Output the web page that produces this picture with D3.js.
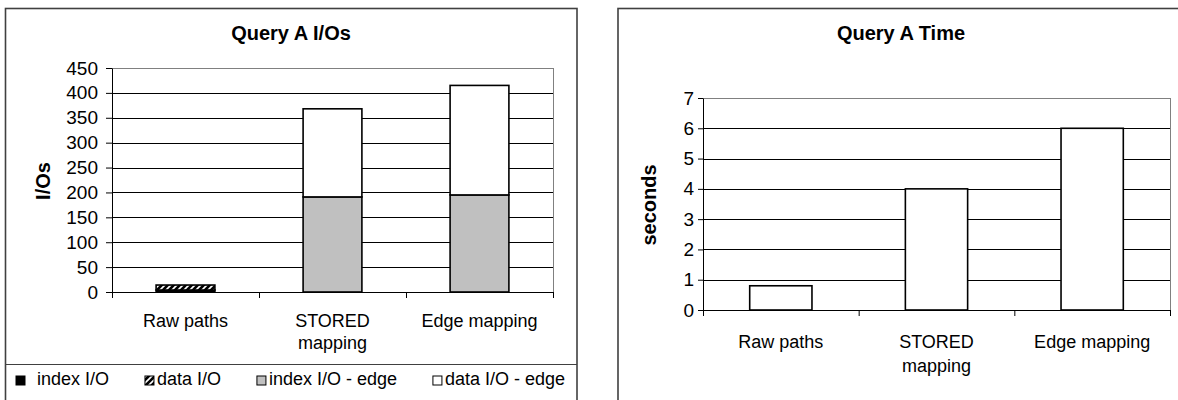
<!DOCTYPE html>
<html>
<head>
<meta charset="utf-8">
<script src="https://cdn.jsdelivr.net/npm/d3@7"></script>
<style>
  body { margin: 0; background: #fff; }
  svg { display: block; font-family: "Liberation Sans", Arial, sans-serif; }
</style>
</head>
<body>
<svg id="chart" width="1178" height="400"></svg>
<script>
// Categories and their label lines
var categories = ['Raw paths', 'STORED mapping', 'Edge mapping'];
var categoryLines = [['Raw paths'], ['STORED', 'mapping'], ['Edge mapping']];

// Query A I/Os (stacked)
var seriesNames = ['index I/O', 'data I/O', 'index I/O - edge', 'data I/O - edge'];
var indexIO = [4, 0, 0];
var dataIO = [10, 0, 0];
var indexIOEdge = [0, 191, 195];
var dataIOEdge = [0, 177, 220];
var ioTicks = [0, 50, 100, 150, 200, 250, 300, 350, 400, 450];

// Query A Time
var timeValues = [0.8, 4, 6];
var timeTicks = [0, 1, 2, 3, 4, 5, 6, 7];

var svg = d3.select('#chart');

// Hatch pattern for "data I/O"
var defs = svg.append('defs');
var hatch = defs.append('pattern').attr('id', 'hatch')
                .attr('patternUnits', 'userSpaceOnUse')
                .attr('width', 6).attr('height', 6);
hatch.append('rect').attr('width', 6).attr('height', 6).attr('fill', '#000');
hatch.append('path').attr('d', 'M0,6 L6,0 M-1.5,1.5 L1.5,-1.5 M4.5,7.5 L7.5,4.5')
     .attr('stroke', '#fff').attr('stroke-width', 1.6);

var fills = ['#000', 'url(#hatch)', '#c0c0c0', '#fff'];

function drawFrame(x, w) {
    svg.append('rect').attr('x', x).attr('y', 8.5).attr('width', w).attr('height', 420)
       .attr('fill', 'none').attr('stroke', '#404040').attr('stroke-width', 1.6);
}

function drawChart(opt) {
    var g = svg.append('g');

    // Scales:
    var xScale = d3.scaleBand().domain(categories).range([opt.left, opt.right])
                   .paddingInner(0.6).paddingOuter(0.3);
    var xTicks = d3.scaleLinear().domain([0, categories.length]).range([opt.left, opt.right]);
    var yScale = d3.scaleLinear().domain(opt.domain).range([opt.bottom, opt.top]);

    // Title:
    g.append('text').attr('x', opt.titleX).attr('y', opt.titleY)
     .attr('text-anchor', 'middle').attr('font-weight', 'bold')
     .attr('font-size', 20).text(opt.title);

    // Y label:
    g.append('text').attr('transform', 'translate(' + opt.labelX + ',' + opt.labelY + ') rotate(-90)')
     .attr('text-anchor', 'middle').attr('dy', '0.35em').attr('font-weight', 'bold')
     .attr('font-size', 20).text(opt.yLabel);

    // The grid:
    var grid = g.append('g').attr('transform', 'translate(' + opt.left + ',0)')
                .call(d3.axisLeft(yScale).tickValues(opt.ticks.slice(0, -1))
                        .tickSize(-(opt.right - opt.left)).tickFormat(''));
    grid.select('.domain').remove();
    grid.selectAll('line').attr('stroke', '#000').attr('shape-rendering', 'crispEdges');

    // Plot area border (top and right are grey):
    g.append('rect').attr('x', opt.left).attr('y', yScale(opt.domain[1]))
     .attr('width', opt.right - opt.left).attr('height', opt.bottom - yScale(opt.domain[1]))
     .attr('fill', 'none').attr('stroke', '#808080').attr('shape-rendering', 'crispEdges');

    // The bars:
    var stacked = d3.stack().keys(d3.range(opt.series.length))
                    .value((d, k) => opt.series[k][d])(d3.range(categories.length));
    stacked.forEach(function(layer, k) {
        g.append('g').selectAll('rect').data(layer.filter(d => d[1] > d[0]))
         .enter().append('rect')
         .attr('x', d => xScale(categories[d.data]))
         .attr('y', d => yScale(d[1]))
         .attr('width', xScale.bandwidth())
         .attr('height', d => yScale(d[0]) - yScale(d[1]))
         .attr('fill', opt.fills[k])
         .attr('stroke', '#000').attr('stroke-width', 1.6);
    });

    // Axes:
    var yAxis = g.append('g').attr('transform', 'translate(' + opt.left + ',0)')
                 .call(d3.axisLeft(yScale).tickValues(opt.ticks).tickFormat(d3.format('d'))
                         .tickSize(opt.tickSize).tickSizeOuter(0).tickPadding(opt.tickPadding));
    yAxis.selectAll('text').attr('font-size', 19).attr('fill', '#000')
         .attr('font-family', '"Liberation Sans", Arial, sans-serif');
    yAxis.selectAll('line, path').attr('stroke', '#000');

    var xAxis = g.append('g').attr('transform', 'translate(0,' + opt.bottom + ')')
                 .call(d3.axisBottom(xTicks).tickValues(d3.range(categories.length + 1))
                         .tickSize(6).tickSizeOuter(0).tickFormat(''));
    xAxis.selectAll('line, path').attr('stroke', '#000');

    // Category labels:
    var labels = g.append('g').selectAll('text').data(categoryLines).enter().append('text')
                  .attr('text-anchor', 'middle').attr('font-size', 18)
                  .attr('transform', (d, i) => 'translate(' + (xScale(categories[i]) + xScale.bandwidth() / 2) + ',' + opt.catY + ')');
    labels.selectAll('tspan').data(d => d).enter().append('tspan')
          .attr('x', 0).attr('y', (d, i) => i * opt.catLine).text(d => d);
}

// Frames
drawFrame(5.5, 571.5);
drawFrame(618, 620);

drawChart({
    title: 'Query A I/Os', yLabel: 'I/Os',
    left: 112, right: 553, top: 68, bottom: 292,
    domain: [0, 450], ticks: ioTicks,
    series: [indexIO, dataIO, indexIOEdge, dataIOEdge], fills: fills,
    titleX: 291, titleY: 40,
    labelX: 43, labelY: 181,
    tickSize: 6, tickPadding: 8,
    catY: 327, catLine: 22
});

drawChart({
    title: 'Query A Time', yLabel: 'seconds',
    left: 703, right: 1170, top: 98, bottom: 310,
    domain: [0, 7], ticks: timeTicks,
    series: [timeValues], fills: ['#fff'],
    titleX: 901, titleY: 40,
    labelX: 649, labelY: 205,
    tickSize: 5, tickPadding: 4,
    catY: 348, catLine: 24
});

// Legend for the I/O chart
svg.append('line').attr('x1', 5.5).attr('x2', 577).attr('y1', 364.5).attr('y2', 364.5)
   .attr('stroke', '#404040').attr('stroke-width', 1.2);

var legend = svg.append('g').attr('font-size', 18);
var items = legend.selectAll('g').data(seriesNames).enter().append('g');
items.append('rect').attr('width', 9).attr('height', 9).attr('y', 376)
     .attr('fill', (d, i) => fills[i]).attr('stroke', '#000').attr('stroke-width', 1);
items.append('text').attr('y', 385).text(d => d);

// Lay out legend entries so they span 16..565
var widths = [];
items.select('text').each(function() { widths.push(this.getComputedTextLength()); });
var gaps = [12, 3, 3, 3];
var used = d3.sum(widths) + d3.sum(gaps) + 9 * widths.length;
var spacing = (565 - 16 - used) / (widths.length - 1);
var cx = 16;
items.each(function(d, i) {
    d3.select(this).select('rect').attr('x', cx);
    d3.select(this).select('text').attr('x', cx + 9 + gaps[i]);
    cx += 9 + gaps[i] + widths[i] + spacing;
});
</script>
</body>
</html>
